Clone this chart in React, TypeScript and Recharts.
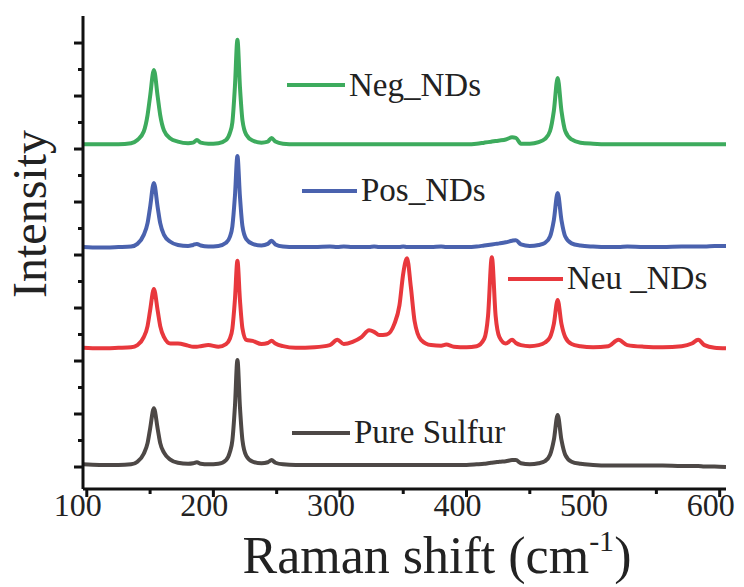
import { LineChart, Line, XAxis, YAxis } from "recharts";

// Raman shift grid (cm-1), shared by all four spectra
const shift = [
  97, 110, 125, 135, 140, 145, 148, 150, 153, 156, 158, 161, 166, 172, 180, 184, 187, 190, 196, 204,
  210, 213, 215, 217, 219, 221, 223, 226, 231, 238, 243, 246, 249, 255, 265, 280, 292, 298, 303, 310,
  317, 323, 327, 331, 337, 343, 347, 350, 353, 356, 359, 364, 372, 380, 384, 390, 400, 408, 414, 417,
  420, 423, 426, 431, 436, 439, 443, 450, 457, 462, 466, 469, 472, 475, 478, 483, 490, 500, 512, 520,
  527, 540, 555, 570, 578, 583, 588, 596, 605,
];

// stacked intensities (offset per trace, arbitrary units)
const negNDs = [
  6.09, 6.09, 6.09, 6.11, 6.17, 6.33, 6.64, 6.99, 7.49, 6.99, 6.64, 6.35, 6.2, 6.14, 6.11, 6.12, 6.17, 6.12, 6.1, 6.11,
  6.17, 6.3, 6.5, 7.17, 8.06, 7.17, 6.54, 6.27, 6.16, 6.12, 6.14, 6.21, 6.14, 6.1, 6.09, 6.09, 6.09, 6.09, 6.09, 6.09,
  6.09, 6.09, 6.09, 6.09, 6.09, 6.09, 6.09, 6.09, 6.09, 6.09, 6.09, 6.09, 6.09, 6.09, 6.09, 6.09, 6.09, 6.1, 6.12, 6.13,
  6.14, 6.15, 6.16, 6.18, 6.22, 6.21, 6.1, 6.1, 6.13, 6.19, 6.34, 6.72, 7.34, 6.72, 6.34, 6.18, 6.12, 6.1, 6.09, 6.09,
  6.09, 6.09, 6.09, 6.09, 6.09, 6.09, 6.09, 6.09, 6.09,
];
const posNDs = [
  4.15, 4.14, 4.15, 4.16, 4.21, 4.38, 4.6, 4.9, 5.36, 4.9, 4.6, 4.38, 4.25, 4.19, 4.17, 4.19, 4.21, 4.18, 4.16, 4.17,
  4.23, 4.34, 4.54, 5.1, 5.87, 5.1, 4.54, 4.3, 4.21, 4.18, 4.21, 4.27, 4.2, 4.16, 4.15, 4.15, 4.16, 4.15, 4.16, 4.15,
  4.15, 4.15, 4.16, 4.15, 4.15, 4.15, 4.15, 4.16, 4.15, 4.15, 4.15, 4.15, 4.15, 4.16, 4.15, 4.15, 4.15, 4.16, 4.18, 4.19,
  4.2, 4.21, 4.22, 4.24, 4.27, 4.28, 4.2, 4.17, 4.19, 4.23, 4.35, 4.66, 5.17, 4.66, 4.35, 4.22, 4.18, 4.16, 4.15, 4.15,
  4.16, 4.15, 4.15, 4.16, 4.16, 4.16, 4.16, 4.17, 4.17,
];
const neuNDs = [
  2.25, 2.24, 2.25, 2.26, 2.3, 2.45, 2.66, 2.95, 3.36, 2.95, 2.66, 2.45, 2.33, 2.33, 2.29, 2.27, 2.27, 2.28, 2.3, 2.27,
  2.32, 2.42, 2.61, 3.15, 3.89, 3.15, 2.61, 2.4, 2.38, 2.32, 2.34, 2.38, 2.33, 2.28, 2.25, 2.26, 2.3, 2.4, 2.32, 2.36,
  2.45, 2.58, 2.55, 2.49, 2.5, 2.7, 3.05, 3.65, 3.94, 3.4, 2.75, 2.4, 2.3, 2.29, 2.31, 2.27, 2.26, 2.28, 2.42, 2.85,
  3.96, 2.85, 2.45, 2.33, 2.4, 2.34, 2.3, 2.28, 2.3, 2.35, 2.45, 2.7, 3.15, 2.7, 2.45, 2.32, 2.28, 2.26, 2.28, 2.4,
  2.3, 2.27, 2.26, 2.28, 2.33, 2.4, 2.3, 2.25, 2.24,
];
const pureSulfur = [
  0.05, 0.04, 0.04, 0.05, 0.1, 0.25, 0.45, 0.72, 1.11, 0.72, 0.45, 0.27, 0.14, 0.08, 0.06, 0.07, 0.09, 0.06, 0.05, 0.06,
  0.13, 0.28, 0.5, 1.13, 2.02, 1.13, 0.5, 0.21, 0.1, 0.07, 0.09, 0.13, 0.08, 0.05, 0.04, 0.04, 0.04, 0.04, 0.04, 0.04,
  0.04, 0.04, 0.04, 0.04, 0.04, 0.04, 0.04, 0.04, 0.04, 0.04, 0.04, 0.04, 0.04, 0.04, 0.04, 0.04, 0.04, 0.05, 0.06, 0.07,
  0.08, 0.09, 0.1, 0.11, 0.13, 0.13, 0.07, 0.05, 0.07, 0.11, 0.23, 0.51, 0.98, 0.51, 0.23, 0.1, 0.06, 0.04, 0.03, 0.03,
  0.03, 0.03, 0.03, 0.02, 0.02, 0.02, 0.01, 0.01, 0.0,
];

const seriesNames = ["Neg_NDs", "Pos_NDs", "Neu _NDs", "Pure Sulfur"];
const xTicks = [100, 150, 200, 250, 300, 350, 400, 450, 500, 550, 600];
const yTicks = [0, 0.5, 1, 1.5, 2, 2.5, 3, 3.5, 4, 4.5, 5, 5.5, 6, 6.5, 7, 7.5, 8];

const rows = shift.map((s, i) => ({
  shift: s,
  neg: negNDs[i],
  pos: posNDs[i],
  neu: neuNDs[i],
  sulfur: pureSulfur[i],
}));

const W = 744;
const H = 587;
const LEFT = 83;
const TOP = 16;
const RIGHT = 726;
const BOTTOM = 489;
const serif = { fontFamily: "'Liberation Serif', 'DejaVu Serif', serif" };

const COLORS = ["#3dab5d", "#4a62ae", "#e8383d", "#4d4846"];
const KEYS = ["neg", "pos", "neu", "sulfur"];

// legend placement: [lineX1, lineX2, lineY, textBaseline]
const legendPos = [
  [287, 345, 85, 96],
  [302, 357, 191, 201],
  [508, 563, 279, 289],
  [292, 350, 433, 443],
];

const XTick = (props: any) => {
  const { x, payload } = props;
  const major = payload.value % 100 === 0;
  return (
    <g>
      <line x1={x} x2={x} y1={BOTTOM} y2={BOTTOM + (major ? 8 : 5)} stroke="#111" strokeWidth={3} />
      {major && (
        <text x={x - 9} y={516} textAnchor="middle" fontSize={32} style={serif} fill="#222">
          {payload.value}
        </text>
      )}
    </g>
  );
};

const YTick = (props: any) => {
  const { y, payload } = props;
  const major = Number.isInteger(payload.value);
  return (
    <line x1={LEFT - (major ? 9 : 5)} x2={LEFT} y1={y} y2={y} stroke="#111" strokeWidth={3} />
  );
};

export default function App() {
  return (
    <div style={{ position: "absolute", left: 0, top: 0, width: W, height: H, background: "#fff" }}>
      <LineChart
        width={W}
        height={H}
        data={rows}
        margin={{ top: TOP, right: W - RIGHT, left: 0, bottom: 0 }}
      >
        <XAxis
          dataKey="shift"
          type="number"
          domain={[97, 605]}
          ticks={xTicks}
          allowDataOverflow
          height={H - BOTTOM}
          tickLine={false}
          tick={<XTick />}
          axisLine={{ stroke: "#111", strokeWidth: 3 }}
          interval={0}
        />
        <XAxis
          xAxisId="top"
          orientation="top"
          dataKey="shift"
          type="number"
          domain={[97, 605]}
          height={0}
          tick={false}
          tickLine={false}
          axisLine={{ stroke: "#111", strokeWidth: 3 }}
        />
        <YAxis
          type="number"
          domain={[-0.415, 8.51]}
          ticks={yTicks}
          allowDataOverflow
          width={LEFT}
          tickLine={false}
          tick={<YTick />}
          axisLine={{ stroke: "#111", strokeWidth: 3 }}
          interval={0}
        />
        <YAxis
          yAxisId="right"
          orientation="right"
          domain={[-0.415, 8.51]}
          width={0}
          tick={false}
          tickLine={false}
          axisLine={{ stroke: "#111", strokeWidth: 3 }}
        />
        {KEYS.map((k, i) => (
          <Line
            key={k}
            type="monotone"
            dataKey={k}
            stroke={COLORS[i]}
            strokeWidth={4}
            dot={false}
            activeDot={false}
            isAnimationActive={false}
          />
        ))}
      </LineChart>
      <svg
        width={W}
        height={H}
        style={{ position: "absolute", left: 0, top: 0, pointerEvents: "none" }}
      >
        {seriesNames.map((name, i) => {
          const [x1, x2, ly, ty] = legendPos[i];
          return (
            <g key={name}>
              <line x1={x1} x2={x2} y1={ly} y2={ly} stroke={COLORS[i]} strokeWidth={4} />
              <text x={x2 + 4} y={ty} fontSize={33} style={serif} fill="#222">
                {name}
              </text>
            </g>
          );
        })}
        <text
          x={46}
          y={214}
          transform="rotate(-90 46 214)"
          textAnchor="middle"
          fontSize={48}
          style={serif}
          fill="#222"
        >
          Intensity
        </text>
        <text x={437} y={573} textAnchor="middle" fontSize={52} style={serif} fill="#222">
          Raman shift (cm
          <tspan fontSize={30} dy={-22}>-1</tspan>
          <tspan dy={22}>)</tspan>
        </text>
      </svg>
    </div>
  );
}
